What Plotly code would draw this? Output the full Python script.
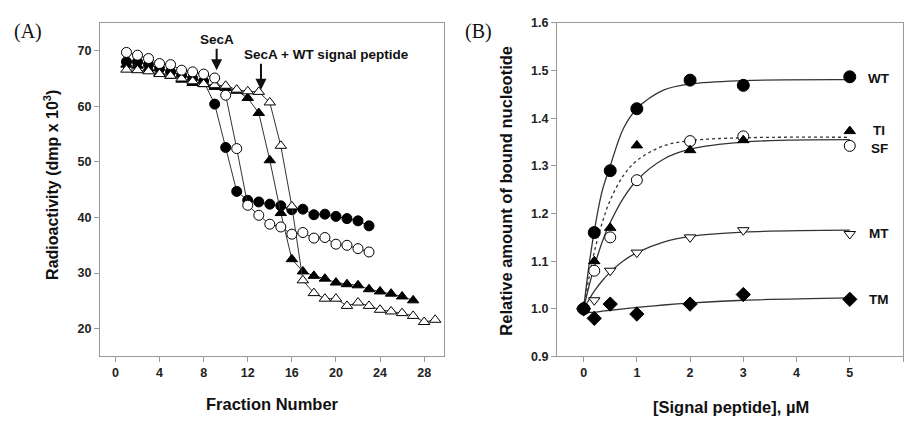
import plotly.graph_objects as go

# ---------------- Panel A data ----------------
frac_secA = list(range(1, 24))
secA_filled = [68.0, 68.0, 67.5, 66.8, 66.2, 65.6, 65.0, 64.5, 60.4, 52.6, 44.7, 43.1, 42.8,
               42.4, 42.1, 41.4, 41.5, 40.5, 40.6, 40.2, 39.8, 39.4, 38.5]
secA_open = [69.7, 69.2, 68.6, 67.7, 67.5, 66.5, 66.2, 65.8, 65.1, 62.0, 52.4, 42.2, 40.4,
             38.8, 38.3, 37.0, 37.3, 36.3, 36.4, 35.2, 35.0, 34.4, 33.8]
frac_tri_f = list(range(1, 28))
tri_filled = [67.5, 67.3, 66.8, 66.0, 65.5, 64.8, 64.2, 64.0, 63.5, 63.3, 62.8, 61.5, 58.8,
              50.3, 40.8, 32.5, 30.3, 29.5, 29.0, 28.3, 28.0, 27.8, 27.1, 26.7, 26.3, 25.8, 25.1]
frac_tri_o = list(range(1, 30))
tri_open = [66.6, 66.5, 66.3, 65.8, 65.5, 65.0, 64.5, 64.0, 63.8, 63.7, 63.0, 62.7, 62.6,
            60.7, 52.9, 42.0, 28.7, 26.4, 25.4, 25.4, 24.1, 24.7, 24.1, 23.4, 23.1, 22.8,
            22.3, 21.2, 21.6]

# ---------------- Panel B data ----------------
conc = [0, 0.2, 0.5, 1, 2, 3, 5]
wt = [1.0, 1.16, 1.29, 1.42, 1.48, 1.469, 1.487]
ti = [1.0, 1.10, 1.17, 1.343, 1.333, 1.354, 1.373]
sf = [1.0, 1.08, 1.15, 1.27, 1.352, 1.362, 1.342]
mt = [1.0, 1.018, 1.08, 1.118, 1.15, 1.165, 1.157]
tm = [1.0, 0.98, 1.01, 0.989, 1.01, 1.03, 1.02]

# fitted curves
fit_x = [0, 0.1, 0.2, 0.35, 0.5, 0.75, 1, 1.5, 2, 3, 5]
wt_fit = [1.0, 1.09, 1.163, 1.248, 1.30, 1.379, 1.42, 1.459, 1.472, 1.479, 1.481]
ti_fit = [1.0, 1.047, 1.088, 1.141, 1.181, 1.233, 1.27, 1.314, 1.335, 1.350, 1.355]
sf_fit = [1.0, 1.065, 1.119, 1.181, 1.228, 1.28, 1.311, 1.342, 1.353, 1.359, 1.36]
mt_fit = [1.0, 1.019, 1.037, 1.059, 1.077, 1.101, 1.118, 1.140, 1.152, 1.161, 1.165]
tm_fit = [0.991, 0.992, 0.993, 0.995, 0.997, 1.0, 1.003, 1.008, 1.012, 1.018, 1.023]

series_labels = ["WT", "TI", "SF", "MT", "TM"]

W, H = 905, 421
def px(x):
    return x / W
def py(y):
    return 1 - y / H

FONT = "Liberation Sans, Arial, sans-serif"
LINE = "#333333"
FRAME = "#9a9a9a"

fig = go.Figure()

def add_a(x, y, symbol, fill):
    fig.add_trace(go.Scatter(
        x=x, y=y, mode="lines+markers", xaxis="x", yaxis="y",
        line=dict(color=LINE, width=1),
        marker=dict(symbol=symbol, size=10, color=fill, line=dict(color="black", width=1)),
        showlegend=False, cliponaxis=False))

add_a(frac_secA, secA_filled, "circle", "black")
add_a(frac_tri_f, tri_filled, "triangle-up", "black")
add_a(frac_tri_o, tri_open, "triangle-up", "white")
add_a(frac_secA, secA_open, "circle", "white")

def add_fit(y, dash="solid"):
    fig.add_trace(go.Scatter(
        x=fit_x, y=y, mode="lines", xaxis="x2", yaxis="y2", line_shape="spline",
        line=dict(color=LINE, width=1.3, dash=dash), showlegend=False))

add_fit(wt_fit)
add_fit(ti_fit)
add_fit(sf_fit, "dot")
add_fit(mt_fit)
add_fit(tm_fit)

def add_b(y, symbol, fill, size):
    fig.add_trace(go.Scatter(
        x=conc, y=y, mode="markers", xaxis="x2", yaxis="y2",
        marker=dict(symbol=symbol, size=size, color=fill, line=dict(color="black", width=1)),
        showlegend=False, cliponaxis=False))

add_b(tm, "diamond", "black", 11)
add_b(mt, "triangle-down", "white", 10)
add_b(sf, "circle", "white", 11)
add_b(ti, "triangle-up", "black", 10)
add_b(wt, "circle", "black", 12)

ax_common = dict(showline=True, mirror=True, linecolor=FRAME, linewidth=1,
                 ticks="outside", ticklen=5, tickcolor=FRAME, showgrid=False,
                 zeroline=False,
                 tickfont=dict(family=FONT, size=12.5, color="#222", weight="bold"))

fig.update_layout(
    width=W, height=H, margin=dict(l=0, r=0, t=0, b=0),
    paper_bgcolor="white", plot_bgcolor="white",
    xaxis=dict(domain=[px(100), px(444)], range=[-1.4, 29.8], tickvals=list(range(0, 29, 4)),
               anchor="y", **ax_common),
    yaxis=dict(domain=[py(361.5), py(16.5)], range=[15, 75], tickvals=[20, 30, 40, 50, 60, 70],
               anchor="x", **ax_common),
    xaxis2=dict(domain=[px(557), px(903)], range=[-0.5, 6.0], tickvals=[0, 1, 2, 3, 4, 5, 6],
                anchor="y2", **ax_common),
    yaxis2=dict(domain=[py(361.5), py(16.5)], range=[0.9, 1.6],
                tickvals=[0.9, 1.0, 1.1, 1.2, 1.3, 1.4, 1.5, 1.6],
                ticktext=["0.9", "1.0", "1.1", "1.2", "1.3", "1.4", "1.5", "1.6"],
                anchor="x2", **ax_common),
)

bold = dict(family=FONT, color="#111", weight="bold")
C = dict(xanchor="center", yanchor="middle", showarrow=False)
ann = []
# axis titles
ann.append(dict(text="Fraction Number", x=px(272), y=py(411), xref="paper", yref="paper",
                font=dict(size=16.5, **bold), **C))
ann.append(dict(text="Radioactivity (dmp x 10<sup>3</sup>)", x=px(51), y=py(184), xref="paper",
                yref="paper", textangle=-90, font=dict(size=16, **bold), **C))
ann.append(dict(text="[Signal peptide], µM", x=px(731), y=py(414), xref="paper", yref="paper",
                font=dict(size=16.5, **bold), **C))
ann.append(dict(text="Relative amount of bound nucleotide", x=px(506), y=py(190), xref="paper",
                yref="paper", textangle=-90, font=dict(size=16.5, **bold), **C))
# panel labels
serif = dict(family="Liberation Serif, Times New Roman, serif", size=20, color="#111")
ann.append(dict(text="(A)", x=px(28), y=py(25), xref="paper", yref="paper", font=serif, **C))
ann.append(dict(text="(B)", x=px(478), y=py(25), xref="paper", yref="paper", font=serif, **C))
# arrows in panel A (arrow attached to its label)
ann.append(dict(text="SecA", x=9.18, y=66.5, ax=9.18, ay=72.0, xref="x", yref="y",
                axref="x", ayref="y", showarrow=True, arrowhead=2, arrowsize=1.1,
                arrowwidth=2, arrowcolor="#111", font=dict(size=13.5, **bold)))
ann.append(dict(text="SecA", x=13.2, y=63.0, ax=13.2, ay=69.3, xref="x", yref="y",
                axref="x", ayref="y", showarrow=True, arrowhead=2, arrowsize=1.1,
                arrowwidth=2, arrowcolor="#111", font=dict(size=13.5, **bold)))
ann.append(dict(text="+ WT signal peptide", x=px(278.5), y=py(49.5), xref="paper", yref="paper",
                xanchor="left", yanchor="middle", showarrow=False, font=dict(size=13.5, **bold)))
# series labels in panel B
for lab, yy in zip(series_labels, [74, 128, 146, 234, 303]):
    ann.append(dict(text=lab, x=px(879), y=py(yy), xref="paper", yref="paper",
                    font=dict(size=13.5, **bold), **C))
fig.update_layout(annotations=ann)

fig.write_html("out.html")
